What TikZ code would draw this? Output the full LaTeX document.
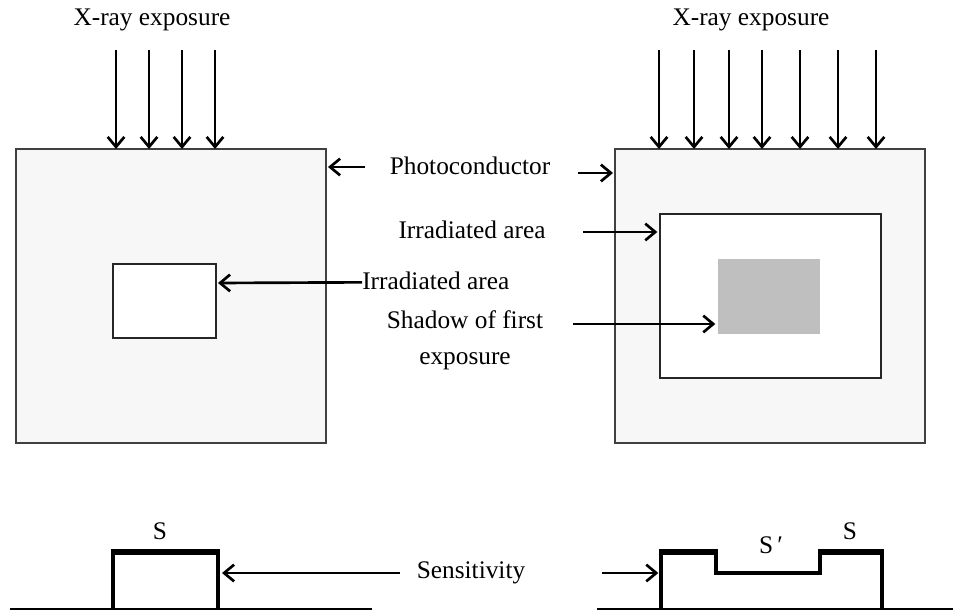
\documentclass[tikz,border=0pt]{standalone}
\usepackage{fontspec}
\setmainfont{Liberation Serif}
\usetikzlibrary{arrows.meta}
\begin{document}
\begin{tikzpicture}[x=0.75pt,y=-0.75pt,
  arr/.style={line width=2pt,-{Straight Barb[length=7.5pt,width=12.5pt]}},
  plate/.style={draw=black!75,line width=0.9pt,fill=black!3,inner sep=0,outer sep=0},
  area/.style={draw=black!85,line width=1.1pt,fill=white,inner sep=0,outer sep=0},
  shade/.style={fill=black!25,draw=none,inner sep=0,outer sep=0},
  lbl/.style={font=\fontsize{19}{27}\selectfont,inner sep=0,align=center},
  base/.style={line width=0.9pt},
  pulse/.style={line width=2.4pt},
  top/.style={line width=4pt}]
\useasboundingbox (0,0) rectangle (953,613);

% plates
\node[plate,minimum width=310*0.75pt,minimum height=294*0.75pt] (lbox) at (171,296) {};
\node[plate,minimum width=310*0.75pt,minimum height=294*0.75pt] (rbox) at (770,296) {};
\node[area,minimum width=103*0.75pt,minimum height=74*0.75pt] (lirr) at (164.5,301) {};
\node[area,minimum width=221*0.75pt,minimum height=164*0.75pt] (rirr) at (770.5,296) {};
\node[shade,minimum width=102*0.75pt,minimum height=75*0.75pt] (shadow) at (769,296.5) {};

% X-ray exposure
\node[lbl] (xl) at (152,20) {X-ray exposure};
\node[lbl] (xr) at (751,20) {X-ray exposure};
\foreach \x in {116,149,182,215}{
  \coordinate (s) at (\x,50);
  \draw[arr] (s) -- (s |- lbox.north);
}
\foreach \x in {659,694,729,762,800,838,876}{
  \coordinate (s) at (\x,50);
  \draw[arr] (s) -- (s |- rbox.north);
}

% Photoconductor
\node[lbl] (photo) at (470,166) {Photoconductor};
\coordinate (pl) at (365,167);
\coordinate (pr) at (578,173);
\draw[arr] (pl) -- ([xshift=1.5pt]lbox.east |- pl);
\draw[arr] (pr) -- ([xshift=-1.5pt]rbox.west |- pr);

% Irradiated area (left)
\node[lbl,anchor=west] (irl) at (362,281) {Irradiated area};
\draw[arr] ([yshift=-1pt]irl.west) -- ([xshift=1.5pt]lirr.east |- 0,283);

% Irradiated area (right)
\node[lbl] (irr) at (472,230) {Irradiated area};
\coordinate (ir0) at (583,232);
\draw[arr] (ir0) -- ([xshift=-2pt]rirr.west |- ir0);

% Shadow
\node[lbl] (shd) at (465,340) {Shadow of first\\exposure};
\coordinate (sh0) at (573,324);
\draw[arr] (sh0) -- ([xshift=-2pt]shadow.west |- sh0);

% Sensitivity plots
\node[lbl] (sens) at (471,573) {Sensitivity};
\coordinate (sl0) at (400,573);
\coordinate (sr0) at (602,573);
\draw[base] (10,609) coordinate (bl0) -- (372,609) coordinate (bl1);
\draw[base] (597,609) coordinate (br0) -- (953,609) coordinate (br1);

\coordinate (la) at (113,609);
\coordinate (lb) at (113,552);
\coordinate (lc) at (218,552);
\coordinate (ld) at (218,609);
\draw[pulse] (la) -- (lb) -- (lc) -- (ld);
\draw[top] ([xshift=-1.2pt]lb) -- ([xshift=1.2pt]lc);

\coordinate (ra) at (661,609);
\coordinate (rb) at (661,552);
\coordinate (rc) at (716,552);
\coordinate (rd) at (716,573);
\coordinate (re) at (820,573);
\coordinate (rf) at (820,552);
\coordinate (rg) at (882,552);
\coordinate (rh) at (882,609);
\draw[pulse,line join=miter] (ra) -- (rb) -- (rc) -- (rd) -- (re) -- (rf) -- (rg) -- (rh);
\draw[top] ([xshift=-1.2pt]rb) -- ([xshift=1.2pt]rc);
\draw[top] ([xshift=-1.2pt]rf) -- ([xshift=1.2pt]rg);

\draw[arr] (sl0) -- ([xshift=3pt]lc |- sl0);
\draw[arr] (sr0) -- ([xshift=-2pt]rb |- sr0);

\node[lbl] (s1) at (160,531) {S};
\node[lbl] (s2) at (771,545) {S\,′};
\node[lbl] (s3) at (850,531) {S};
\end{tikzpicture}
\end{document}
